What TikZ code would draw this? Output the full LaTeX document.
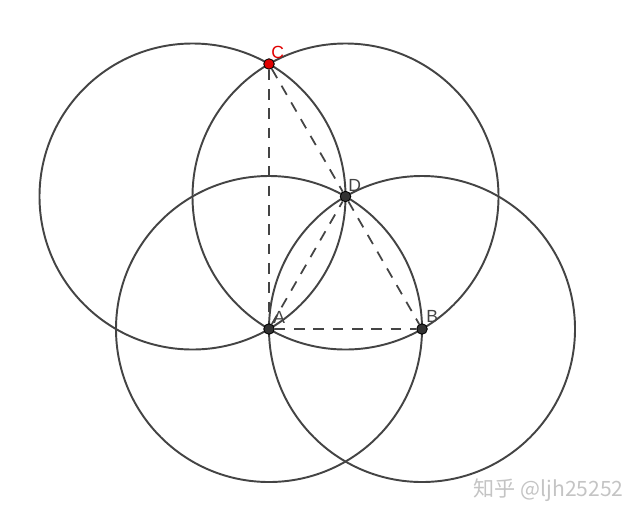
\documentclass[tikz,border=0pt]{standalone}
\usepackage{fontspec}
\setmainfont{Liberation Sans}
\newfontfamily\cjk{Noto Sans CJK SC}
\usepackage{tikz}
\definecolor{linegray}{HTML}{444444}
\definecolor{ptgray}{HTML}{333333}
\definecolor{ptred}{HTML}{E00000}
\definecolor{markgray}{HTML}{C4C4C4}

\begin{document}
\begin{tikzpicture}[x=0.02cm, y=-0.02cm,
  every node/.style = {inner sep=0pt},
  circ/.style = {draw=linegray, line width=1.1pt},
  seg/.style = {draw=linegray, line width=1pt, dash pattern=on 6pt off 5pt},
  dot/.style = {circle, draw=black, fill=#1, minimum size=6pt, line width=0.5pt},
  lbl/.style = {text=linegray, font=\fontsize{10}{12}\selectfont}]
  \useasboundingbox (0,0) rectangle (641,521);
  % centres
  \coordinate (a) at (269,329);
  \coordinate (b) at (422,329);
  \coordinate (d) at (345.5,196.5);
  \coordinate (e) at (192.5,196.5);
  \coordinate (c) at (269,64);
  % circles of radius |AB|
  \draw [circ] (a) circle (153);
  \draw [circ] (b) circle (153);
  \draw [circ] (d) circle (153);
  \draw [circ] (e) circle (153);
  % points
  \node [dot=ptgray] (A) at (a) {};
  \node [dot=ptgray] (B) at (b) {};
  \node [dot=ptgray] (D) at (d) {};
  \node [dot=ptred] (C) at (c) {};
  \path [seg] (C) -- (A);
  \path [seg] (C) -- (D) -- (B);
  \path [seg] (A) -- (B);
  \path [seg] (A) -- (D);
  \node [lbl, text=ptred, anchor=south west] at (271,59) {C};
  \node [lbl, anchor=south west] at (348,192) {D};
  \node [lbl, anchor=south west] at (273,324) {A};
  \node [lbl, anchor=south west] at (426,323) {B};
  \node [anchor=east, text=markgray, font=\cjk\fontsize{12}{14}\selectfont] (mark) at (624,490) {知乎 @ljh25252};
\end{tikzpicture}
\end{document}
